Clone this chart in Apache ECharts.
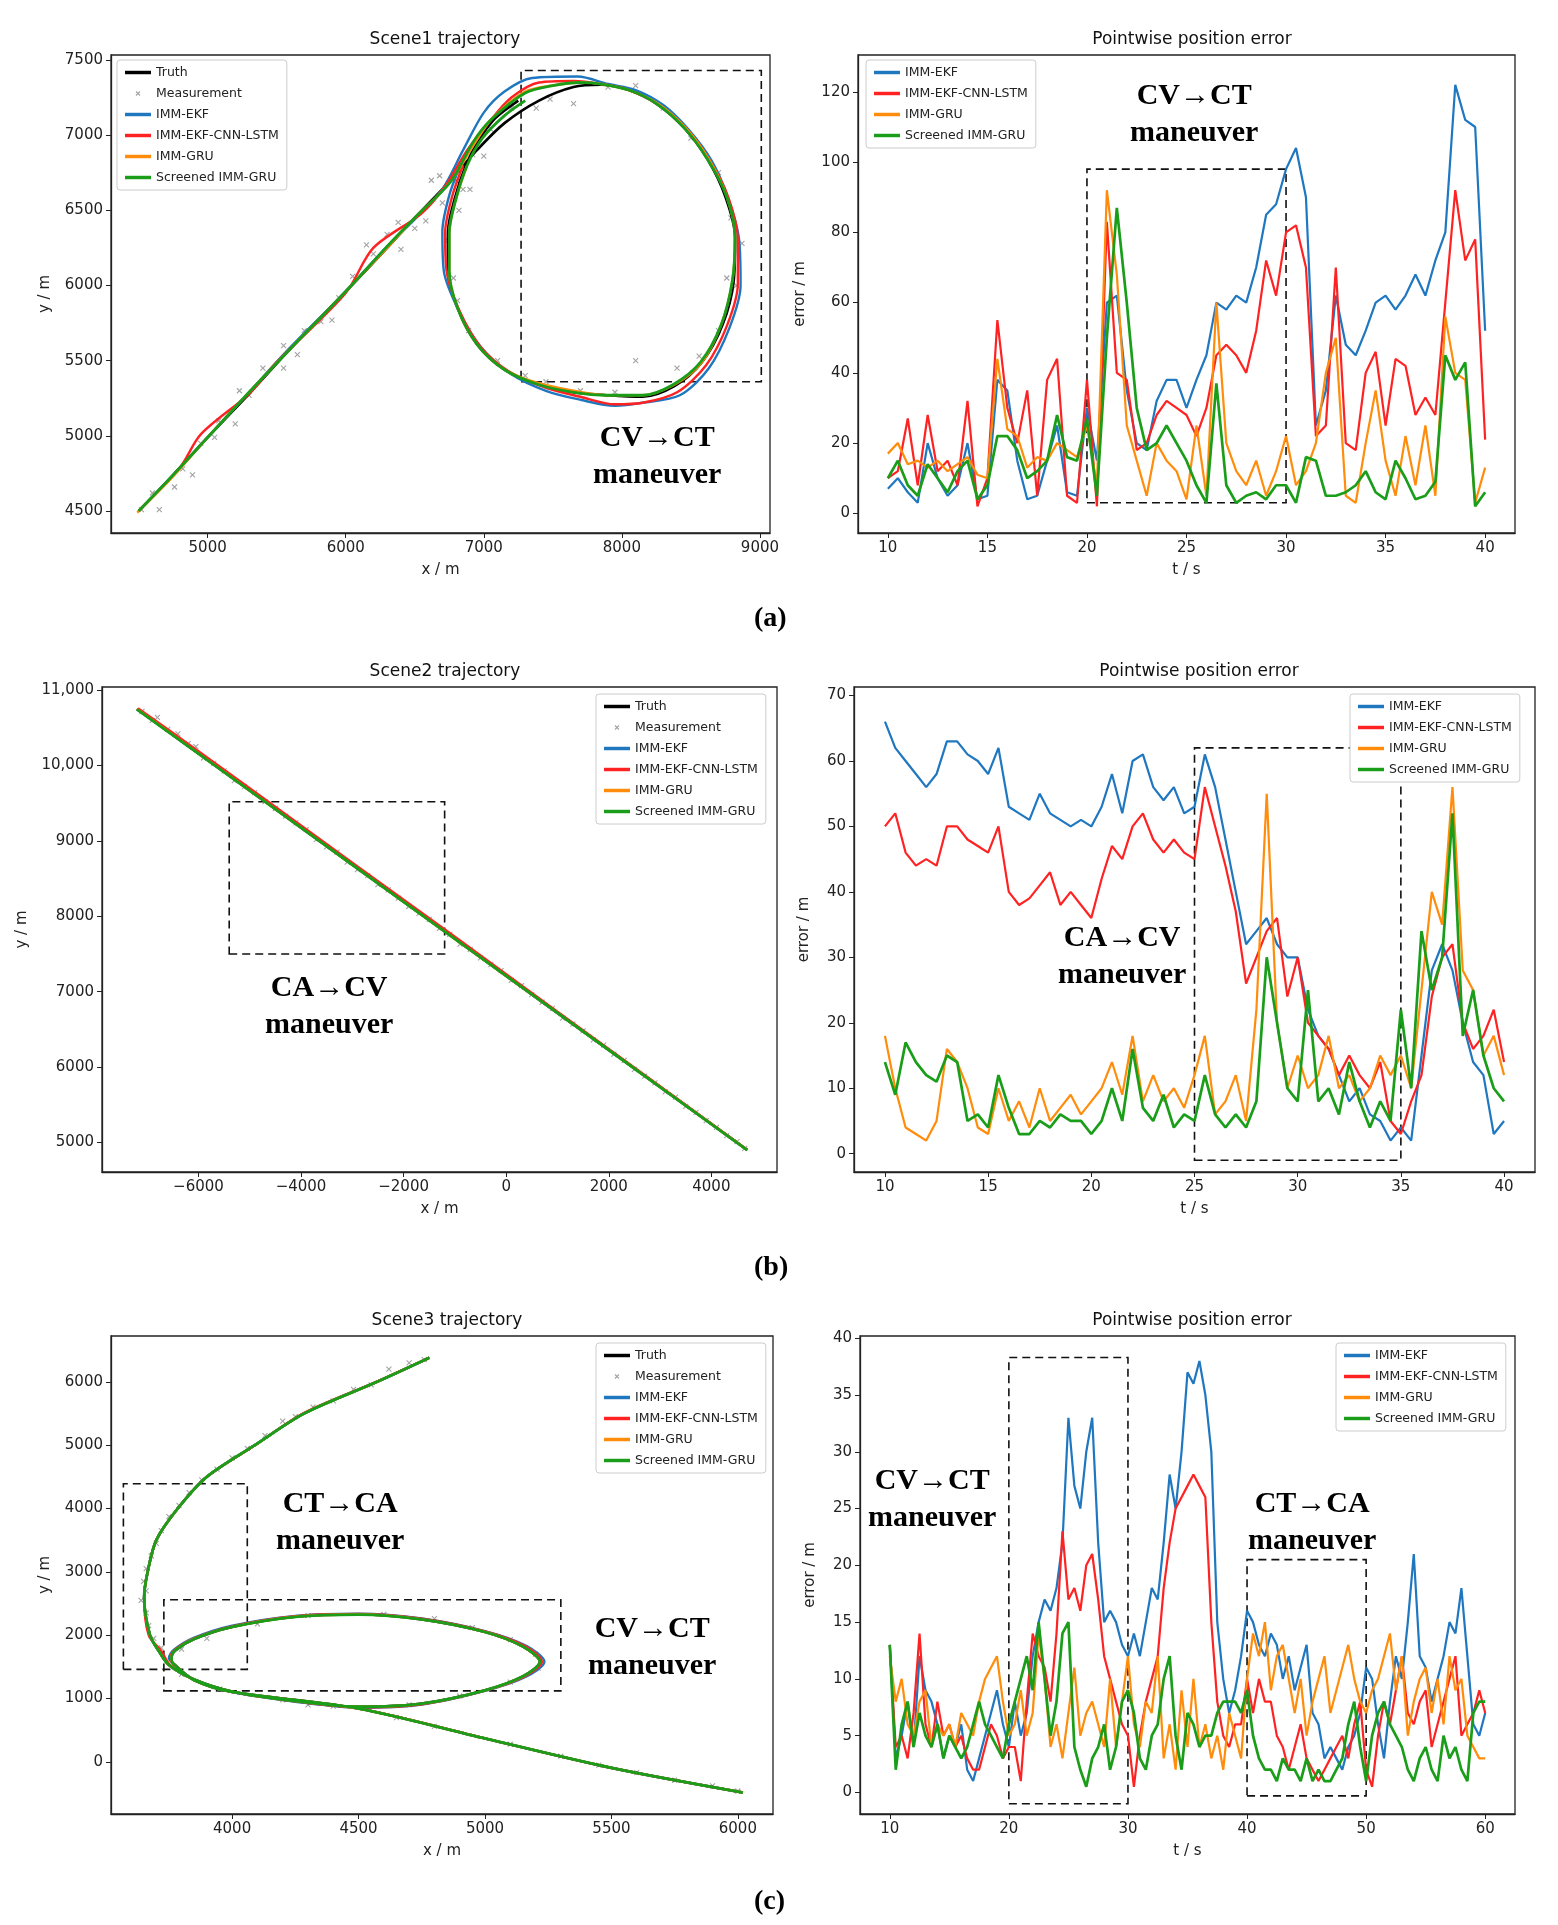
<!DOCTYPE html>
<html>
<head>
<meta charset="utf-8">
<script src="https://cdn.jsdelivr.net/npm/echarts@6/dist/echarts.min.js"></script>
<style>
  html, body { margin: 0; padding: 0; background: #fff; }
  #main { width: 1558px; height: 1925px; }
</style>
</head>
<body>
<div id="main"></div>
<script>
// ---- data ----
const names = ['Truth', 'Measurement', 'IMM-EKF', 'IMM-EKF-CNN-LSTM', 'IMM-GRU', 'Screened IMM-GRU'];
const errNames = ['IMM-EKF', 'IMM-EKF-CNN-LSTM', 'IMM-GRU', 'Screened IMM-GRU'];

// scene 1 trajectory
const s1Truth = [[4500,4500],[4700,4690],[5000,4990],[5300,5280],[5600,5580],[6000,5960],[6300,6250],[6500,6450],[6750,6690],[6950,6900],[7150,7080],[7400,7230],[7650,7320],[7850,7335],[8050,7300],[8250,7210],[8450,7050],[8620,6840],[8750,6590],[8820,6320],[8810,6030],[8730,5740],[8580,5490],[8380,5330],[8150,5260],[7900,5270],[7650,5290],[7400,5340],[7150,5440],[6950,5610],[6810,5850],[6740,6100],[6740,6350],[6790,6580],[6870,6800],[6960,6960],[7080,7110],[7250,7230]];
const s1Ekf = [[4500,4500],[4700,4690],[5000,4990],[5300,5290],[5600,5590],[6000,5960],[6300,6260],[6500,6440],[6700,6640],[6850,6900],[7000,7150],[7150,7290],[7350,7380],[7680,7390],[7900,7340],[8100,7300],[8300,7200],[8480,7040],[8650,6830],[8770,6580],[8850,6300],[8860,6000],[8780,5720],[8630,5450],[8420,5270],[8150,5220],[7950,5200],[7700,5240],[7450,5300],[7200,5410],[6980,5590],[6820,5830],[6710,6100],[6700,6360],[6750,6600],[6830,6800]];
const s1Lstm = [[4500,4500],[4800,4790],[4950,5010],[5300,5280],[5500,5490],[6000,5950],[6200,6250],[6550,6480],[6720,6660],[6880,6900],[7050,7100],[7200,7250],[7400,7350],[7650,7360],[7850,7340],[8050,7300],[8250,7210],[8460,7050],[8630,6840],[8770,6590],[8840,6300],[8840,6010],[8760,5730],[8610,5470],[8400,5290],[8150,5220],[7950,5210],[7700,5260],[7450,5320],[7180,5430],[6970,5600],[6820,5840],[6730,6100],[6720,6350],[6770,6590],[6850,6800]];
const s1Gru = [[4490,4490],[4750,4730],[5000,4990],[5300,5290],[5600,5580],[6000,5960],[6300,6250],[6500,6450],[6760,6690],[6930,6940],[7060,7110],[7300,7290],[7500,7330],[7700,7350],[7850,7340],[8050,7300],[8260,7210],[8460,7050],[8630,6840],[8760,6590],[8820,6320],[8800,6030],[8720,5740],[8580,5490],[8380,5340],[8150,5270],[7900,5270],[7650,5300],[7400,5350],[7150,5440],[6950,5610],[6810,5850],[6750,6100],[6750,6350],[6800,6580],[6880,6800]];
const s1Green = [[4500,4500],[4750,4740],[5000,4990],[5300,5290],[5600,5580],[6000,5960],[6300,6260],[6500,6450],[6760,6690],[6920,6950],[7050,7100],[7300,7280],[7500,7330],[7700,7350],[7850,7340],[8050,7300],[8250,7210],[8450,7050],[8620,6840],[8760,6590],[8820,6320],[8800,6030],[8720,5740],[8570,5490],[8370,5340],[8150,5270],[7900,5270],[7650,5290],[7400,5340],[7150,5440],[6950,5610],[6810,5850],[6750,6100],[6750,6350],[6800,6580],[6880,6800],[6990,6980],[7150,7130],[7300,7230]];
const s1Meas = [[4520,4510],[4650,4510],[4600,4620],[4760,4660],[4820,4780],[4890,4740],[4950,4950],[5050,4990],[5080,5100],[5200,5080],[5230,5300],[5300,5270],[5400,5450],[5550,5450],[5550,5600],[5650,5540],[5700,5700],[5820,5760],[5900,5770],[5950,5920],[6050,6060],[6150,6270],[6200,6210],[6300,6340],[6380,6420],[6400,6240],[6500,6380],[6580,6430],[6620,6700],[6680,6730],[6700,6550],[6800,6700],[6850,6640],[6920,6870],[7000,6860],[7050,7040],[7200,7180],[7380,7180],[7480,7240],[7650,7210],[7900,7320],[8100,7330],[8300,7180],[8500,6980],[8700,6750],[8790,6450],[8870,6280],[8760,6050],[8830,6000],[8700,5700],[8560,5530],[8400,5450],[8100,5500],[7950,5290],[7700,5300],[7450,5360],[7300,5400],[7100,5500],[6890,5700],[6810,5900],[6780,6050],[6740,6300],[6820,6500],[6900,6640]];

// scene 2 trajectory
const s2Truth = [[-7200,10750],[-5000,9669],[-3000,8685],[-1000,7702],[1000,6719],[3000,5736],[4700,4900]];
const s2Ekf = [[-7200,10750],[-5000,9675],[-3000,8690],[-1000,7705],[1000,6715],[3000,5738],[4700,4898]];
const s2Lstm = [[-7180,10760],[-6000,10190],[-5000,9700],[-3000,8710],[-1000,7730],[1000,6735],[3000,5745],[4700,4905]];
const s2Gru = [[-7200,10750],[-5000,9670],[-3000,8683],[-1000,7700],[1000,6717],[3000,5735],[4700,4900]];
const s2Green = [[-7200,10745],[-5000,9667],[-3000,8684],[-1000,7701],[1000,6718],[3000,5735],[4700,4899]];
const s2Meas = [[-7100,10720],[-6900,10600],[-6800,10640],[-6600,10480],[-6400,10420],[-6200,10290],[-6050,10250],[-5900,10100],[-5700,10030],[-5500,9930],[-5300,9800],[-5100,9720],[-4900,9640],[-4700,9520],[-4500,9430],[-4300,9330],[-4100,9240],[-3900,9150],[-3700,9020],[-3500,8920],[-3300,8850],[-3100,8720],[-2900,8620],[-2700,8540],[-2500,8420],[-2300,8350],[-2100,8240],[-1900,8130],[-1700,8040],[-1500,7960],[-1300,7840],[-1100,7760],[-900,7630],[-700,7560],[-500,7450],[-300,7360],[-100,7280],[100,7150],[300,7080],[500,6960],[700,6860],[900,6780],[1100,6650],[1300,6570],[1500,6480],[1700,6360],[1900,6290],[2100,6170],[2300,6090],[2500,5970],[2700,5880],[2900,5790],[3100,5670],[3300,5600],[3500,5480],[3700,5400],[3900,5290],[4100,5200],[4300,5090],[4500,5010],[4650,4920]];

// scene 3 trajectory
const s3Truth = [[4780,6380],[4573,6000],[4285,5500],[4090,5000],[3900,4500],[3785,4000],[3700,3500],[3666,3000],[3652,2600],[3675,2000],[3710,1750],[3750,1530],[3850,1300],[4000,1110],[4250,960],[4500,870],[4750,920],[5000,1130],[5150,1350],[5217,1580],[5150,1820],[5000,2050],[4750,2250],[4500,2326],[4250,2290],[4000,2130],[3850,1940],[3775,1760],[3760,1640],[3765,1560],[3850,1290],[4000,1105],[4500,842],[5000,370],[5500,-95],[6020,-484]];
const s3Ekf = [[4780,6380],[4573,6000],[4285,5500],[4090,5000],[3900,4500],[3785,4000],[3700,3500],[3666,3000],[3652,2600],[3675,2000],[3710,1750],[3750,1530],[3850,1300],[4000,1100],[4250,950],[4500,855],[4750,905],[5000,1120],[5160,1340],[5235,1580],[5165,1830],[5000,2065],[4750,2265],[4500,2340],[4250,2305],[4000,2150],[3850,1960],[3770,1770],[3750,1640],[3765,1560],[3850,1290],[4000,1105],[4500,842],[5000,370],[5500,-95],[6020,-484]];
const s3Lstm = [[4780,6380],[4573,6005],[4280,5500],[4095,5010],[3900,4500],[3785,4000],[3700,3500],[3666,3000],[3652,2600],[3670,2000],[3720,1750],[3755,1530],[3850,1300],[4000,1105],[4250,955],[4500,860],[4750,910],[5000,1125],[5155,1345],[5225,1580],[5160,1825],[5000,2060],[4750,2260],[4500,2335],[4250,2300],[4000,2140],[3850,1950],[3772,1765],[3755,1640],[3765,1560],[3850,1290],[4000,1105],[4500,842],[5000,370],[5500,-95],[6020,-484]];
const s3Green = [[4780,6380],[4573,6000],[4285,5500],[4090,5000],[3900,4500],[3785,4000],[3700,3500],[3666,3000],[3652,2600],[3675,2000],[3710,1750],[3750,1530],[3850,1300],[4000,1110],[4250,960],[4500,870],[4750,920],[5000,1130],[5150,1350],[5217,1580],[5150,1820],[5000,2050],[4750,2250],[4500,2326],[4250,2290],[4000,2130],[3850,1940],[3775,1760],[3760,1640],[3765,1560],[3850,1290],[4000,1105],[4500,842],[5000,370],[5500,-95],[6020,-484]];
const s3Meas = [[4760,6350],[4700,6300],[4620,6200],[4550,5950],[4480,5880],[4400,5700],[4320,5600],[4250,5450],[4200,5380],[4130,5150],[4060,4950],[4000,4800],[3940,4620],[3880,4450],[3830,4250],[3790,4050],[3750,3870],[3720,3650],[3700,3450],[3680,3250],[3660,3050],[3650,2850],[3660,2700],[3640,2550],[3660,2350],[3670,2150],[3690,1950],[3720,1800],[3800,1780],[3900,1950],[4100,2180],[4300,2310],[4600,2330],[4800,2260],[4950,2120],[5100,1930],[5200,1700],[5210,1480],[5100,1260],[4900,1040],[4700,900],[4400,880],[4200,980],[3950,1150],[3800,1380],[4300,900],[4650,700],[4800,560],[5100,280],[5300,90],[5450,-50],[5600,-170],[5750,-290],[5900,-380],[6000,-460]];

// pointwise errors, sampled every 0.5 s
const s1T0 = 10, s2T0 = 10, s3T0 = 10, dt = 0.5;
const e1Ekf = [7,10,6,3,20,10,5,8,20,4,5,38,35,15,4,5,15,25,6,5,30,15,60,62,35,20,18,32,38,38,30,38,45,60,58,62,60,70,85,88,98,104,90,25,35,62,48,45,52,60,62,58,62,68,62,72,80,122,112,110,52];
const e1Lstm = [10,12,27,8,28,12,15,8,32,2,10,55,30,20,35,5,38,44,5,3,38,2,83,40,38,18,20,28,32,30,28,22,30,45,48,45,40,52,72,62,80,82,70,22,25,70,20,18,40,46,25,44,42,28,33,28,60,92,72,78,21];
const e1Gru = [17,20,14,15,13,15,12,14,16,11,10,44,24,22,13,16,15,20,18,16,25,8,92,68,25,15,5,20,15,12,4,25,5,60,20,12,8,15,5,12,22,8,12,20,40,50,5,3,20,35,15,5,22,8,25,5,56,40,38,3,13];
const e1Green = [10,15,8,5,14,10,6,12,15,4,8,22,22,18,10,12,15,28,16,15,27,5,50,87,60,30,18,20,25,20,15,8,3,37,8,3,5,6,4,8,8,3,16,15,5,5,6,8,12,6,4,15,10,4,5,9,45,38,43,2,6];

const e2Ekf = [66,62,60,58,56,58,63,63,61,60,58,62,53,52,51,55,52,51,50,51,50,53,58,52,60,61,56,54,56,52,53,61,56,48,40,32,34,36,32,30,30,22,18,16,12,8,10,6,5,2,4,2,15,28,32,28,20,14,12,3,5];
const e2Lstm = [50,52,46,44,45,44,50,50,48,47,46,50,40,38,39,41,43,38,40,38,36,42,47,45,50,52,48,46,48,46,45,56,50,44,37,26,30,34,36,24,30,20,18,16,12,15,12,10,14,5,3,8,12,24,30,32,20,16,18,22,14];
const e2Gru = [18,10,4,3,2,5,16,14,10,4,3,10,5,8,4,10,5,7,9,6,8,10,14,9,18,8,12,8,10,7,12,18,6,8,12,5,22,55,20,10,15,10,12,18,10,12,8,10,15,12,15,10,25,40,35,56,28,25,15,18,12];
const e2Green = [14,9,17,14,12,11,15,14,5,6,4,12,7,3,3,5,4,6,5,5,3,5,10,5,16,7,5,9,4,6,5,12,6,4,6,4,8,30,20,10,8,25,8,10,6,14,8,4,8,5,22,10,34,25,30,52,18,25,15,10,8];

const e3Ekf = [13,3,5,8,4,12,9,8,6,3,5, 4,6,2,1,3,5,7,9,6,4, 8,5,7,12,15,17,16,18,22,33, 27,25,30,33,22,15,16,15,13,12, 14,12,15,18,17,22,28,25,30,37, 36,38,35,30,15,10,7,9,12,16, 15,13,12,14,13,10,12,9,11,13, 7,6,3,4,3,2,4,5,7,11, 10,6,3,8,12,10,15,21,12,11, 8,10,12,15,14,18,12,6,5,7];
const e3Lstm = [13,4,5,3,7,14,6,4,8,5,6, 4,5,3,2,2,4,6,5,3,4, 4,1,8,14,12,11,8,14,23,17, 18,16,20,21,17,12,10,8,6,5, 0.5,5,8,10,12,18,22,25,26,27, 28,27,26,15,8,5,4,6,6,10, 7,10,8,8,5,4,2,4,6,3, 2,1,2,3,4,5,3,6,8,2, 0.5,5,8,6,9,12,7,6,8,9, 4,6,8,10,12,5,6,7,9,7];
const e3Gru = [12,8,10,6,5,8,9,4,6,5,6, 4,7,6,5,8,10,11,12,8,5, 6,9,5,7,14,10,4,6,3,7, 11,5,7,8,6,4,10,4,8,12, 6,4,8,7,12,3,6,2,9,4, 10,4,6,3,5,2,7,5,3,10, 14,12,15,9,12,13,10,7,10,5, 8,10,12,7,9,11,13,10,8,7, 9,10,12,14,9,12,5,8,10,11, 7,10,6,12,9,10,5,4,3,3];
const e3Green = [13,2,6,8,4,7,5,4,6,3,5, 4,3,4,6,8,6,5,4,3,6, 8,10,12,9,15,10,5,8,14,15, 4,2,0.5,3,4,6,2,4,8,9, 7,3,2,5,6,10,12,5,2,7, 6,4,5,5,7,8,8,8,7,9, 5,3,2,2,1,3,2,2,1,3, 1,2,1,1,2,3,6,8,4,1, 5,7,8,6,5,4,2,1,3,4, 2,1,5,3,4,2,1,7,8,8];

// tick labels
const s1XTicks = [5000, 6000, 7000, 8000, 9000];
const s1YTicks = [4500, 5000, 5500, 6000, 6500, 7000, 7500];
const s2XTicks = [-6000, -4000, -2000, 0, 2000, 4000];
const s2YTicks = [5000, 6000, 7000, 8000, 9000, 10000, 11000];
const s3XTicks = [4000, 4500, 5000, 5500, 6000];
const s3YTicks = [0, 1000, 2000, 3000, 4000, 5000, 6000];

// ---- styles ----
const C = { truth: '#000000', meas: '#8c8c8c', ekf: '#1f77c0', lstm: '#ff2222', gru: '#ff8c0a', green: '#1a9e1a' };
const FONT = 'DejaVu Sans';
const ANN = 'Liberation Serif';

const grids = [
  { left: 111, top: 55, width: 659, height: 478 },
  { left: 858, top: 55, width: 657, height: 478 },
  { left: 102, top: 687, width: 675, height: 485 },
  { left: 854, top: 687, width: 681, height: 485 },
  { left: 111, top: 1336, width: 662, height: 478 },
  { left: 860, top: 1336, width: 655, height: 478 }
].map(g => Object.assign({ show: true, borderColor: '#222', borderWidth: 1.3, backgroundColor: '#fff' }, g));

const plain = v => String(v).replace('-', '\u2212');
const comma = v => (Math.abs(v) >= 10000 ? v.toLocaleString('en-US') : plain(v));

function axis(gi, min, max, name, gap, ticks, fmt) {
  return {
    type: 'value', gridIndex: gi, min, max, name, nameLocation: 'middle', nameGap: gap,
    nameTextStyle: { fontFamily: FONT, fontSize: 15, color: '#222' },
    axisLine: { show: true, onZero: false, lineStyle: { color: '#222', width: 1.3 } },
    axisTick: { show: true, length: 5, lineStyle: { color: '#222' }, customValues: ticks },
    axisLabel: { fontFamily: FONT, fontSize: 15, color: '#222', margin: 8, customValues: ticks, formatter: fmt || plain },
    splitLine: { show: false }
  };
}

const xAxes = [
  axis(0, 4300, 9073, 'x / m', 30, s1XTicks),
  axis(1, 8.5, 41.5, 't / s', 30, [10, 15, 20, 25, 30, 35, 40]),
  axis(2, -7880, 5280, 'x / m', 30, s2XTicks),
  axis(3, 8.5, 41.5, 't / s', 30, [10, 15, 20, 25, 30, 35, 40]),
  axis(4, 3521, 6139, 'x / m', 30, s3XTicks),
  axis(5, 7.5, 62.5, 't / s', 30, [10, 20, 30, 40, 50, 60])
];
const yAxes = [
  axis(0, 4354, 7533, 'y / m', 58, s1YTicks),
  axis(1, -5.6, 130.5, 'error / m', 50, [0, 20, 40, 60, 80, 100, 120]),
  axis(2, 4608, 11042, 'y / m', 72, s2YTicks, comma),
  axis(3, -2.8, 71.3, 'error / m', 42, [0, 10, 20, 30, 40, 50, 60, 70]),
  axis(4, -823, 6723, 'y / m', 58, s3YTicks),
  axis(5, -1.9, 40.2, 'error / m', 42, [0, 5, 10, 15, 20, 25, 30, 35, 40])
];

const crossPath = 'path://M0,0L10,10M10,0L0,10';

function box(list) {
  return {
    silent: true,
    itemStyle: { color: 'rgba(0,0,0,0)', borderColor: '#111', borderWidth: 1.6, borderType: [8, 5] },
    data: list.map(r => [{ coord: [r[0], r[2]] }, { coord: [r[1], r[3]] }])
  };
}

function line(gi, name, data, color, w, z, smooth, markArea) {
  const s = {
    type: 'line', name, xAxisIndex: gi, yAxisIndex: gi, data, symbol: 'none', smooth: smooth,
    lineStyle: { color, width: w }, itemStyle: { color }, z, animation: false
  };
  if (markArea) s.markArea = markArea;
  return s;
}
function meas(gi, data) {
  return {
    type: 'scatter', name: 'Measurement', xAxisIndex: gi, yAxisIndex: gi, data,
    symbol: crossPath, symbolSize: 5, z: 2, animation: false,
    itemStyle: { color: 'rgba(0,0,0,0)', borderColor: C.meas, borderWidth: 1.1 }
  };
}
function timed(t0, vals) {
  return vals.map((v, i) => [t0 + i * dt, v]);
}

function trajSeries(gi, truth, m, ekf, lstm, gru, green, boxes) {
  return [
    line(gi, 'Truth', truth, C.truth, 2.6, 3, 0.3),
    meas(gi, m),
    line(gi, 'IMM-EKF', ekf, C.ekf, 2.4, 4, 0.3),
    line(gi, 'IMM-EKF-CNN-LSTM', lstm, C.lstm, 2.4, 5, 0.3),
    line(gi, 'IMM-GRU', gru, C.gru, 2.4, 6, 0.3),
    line(gi, 'Screened IMM-GRU', green, C.green, 2.8, 7, 0.3, boxes)
  ];
}
function errSeries(gi, t0, ekf, lstm, gru, green, boxes) {
  return [
    line(gi, 'IMM-EKF', timed(t0, ekf), C.ekf, 2.2, 4, false),
    line(gi, 'IMM-EKF-CNN-LSTM', timed(t0, lstm), C.lstm, 2.2, 5, false),
    line(gi, 'IMM-GRU', timed(t0, gru), C.gru, 2.2, 6, false),
    line(gi, 'Screened IMM-GRU', timed(t0, green), C.green, 2.7, 7, false, boxes)
  ];
}

const series = [].concat(
  trajSeries(0, s1Truth, s1Meas, s1Ekf, s1Lstm, s1Gru, s1Green, box([[7270, 9010, 5360, 7430]])),
  errSeries(1, s1T0, e1Ekf, e1Lstm, e1Gru, e1Green, box([[20, 30, 3, 98]])),
  trajSeries(2, s2Truth, s2Meas, s2Ekf, s2Lstm, s2Gru, s2Green, box([[-5400, -1200, 7500, 9520]])),
  errSeries(3, s2T0, e2Ekf, e2Lstm, e2Gru, e2Green, box([[25, 35, -1, 62]])),
  trajSeries(4, s3Truth, s3Meas, s3Ekf, s3Lstm, s3Truth, s3Green, box([[3570, 4060, 1460, 4390], [3730, 5300, 1120, 2560]])),
  errSeries(5, s3T0, e3Ekf, e3Lstm, e3Gru, e3Green, box([[20, 30, -1, 38.3], [40, 50, -0.3, 20.5]]))
);

const lineIcon = 'path://M0,0H30V4H0Z';
function legend(left, top, list) {
  return {
    left, top, orient: 'vertical', itemWidth: 26, itemHeight: 4, itemGap: 8,
    data: list.map(n => (n === 'Measurement'
      ? { name: n, icon: crossPath, itemStyle: { color: 'rgba(0,0,0,0)', borderColor: C.meas, borderWidth: 1.1 } }
      : { name: n, icon: lineIcon })),
    backgroundColor: '#fff', borderColor: '#ccc', borderWidth: 1, borderRadius: 3, padding: [6, 8],
    textStyle: { fontFamily: FONT, fontSize: 12.5, color: '#222' }, selectedMode: false, z: 20
  };
}

function title(text, cx, top) {
  return { text, left: cx, top, textAlign: 'center', textStyle: { fontFamily: FONT, fontSize: 17, fontWeight: 'normal', color: '#111' } };
}

function ann(x, y, text) {
  return {
    type: 'text', left: x, top: y, z: 30,
    style: { text, x: 0, y: 0, textAlign: 'center', font: 'bold 30px "' + ANN + '"', fill: '#000', lineHeight: 37 }
  };
}
function panelLabel(x, y, letter) {
  return {
    type: 'text', left: x, top: y, z: 30,
    style: { text: '(' + letter + ')', font: 'bold 28px "' + ANN + '"', fill: '#000' }
  };
}

const option = {
  backgroundColor: '#fff',
  animation: false,
  title: [
    title('Scene1 trajectory', 440, 26),
    title('Pointwise position error', 1187, 26),
    title('Scene2 trajectory', 440, 658),
    title('Pointwise position error', 1194, 658),
    title('Scene3 trajectory', 442, 1307),
    title('Pointwise position error', 1187, 1307)
  ],
  grid: grids,
  xAxis: xAxes,
  yAxis: yAxes,
  legend: [
    legend(117, 60, names),
    legend(866, 60, errNames),
    legend(596, 694, names),
    legend(1350, 694, errNames),
    legend(596, 1343, names),
    legend(1336, 1343, errNames)
  ],
  graphic: [
    ann(593, 420, 'CV→CT\nmaneuver'),
    ann(1130, 78, 'CV→CT\nmaneuver'),
    ann(265, 970, 'CA→CV\nmaneuver'),
    ann(1058, 920, 'CA→CV\nmaneuver'),
    ann(276, 1486, 'CT→CA\nmaneuver'),
    ann(588, 1611, 'CV→CT\nmaneuver'),
    ann(868, 1463, 'CV→CT\nmaneuver'),
    ann(1248, 1486, 'CT→CA\nmaneuver'),
    panelLabel(754, 605, 'a'),
    panelLabel(754, 1254, 'b'),
    panelLabel(754, 1888, 'c')
  ],
  series
};

const chart = echarts.init(document.getElementById('main'), null, { renderer: 'canvas' });
chart.setOption(option);
</script>
</body>
</html>
